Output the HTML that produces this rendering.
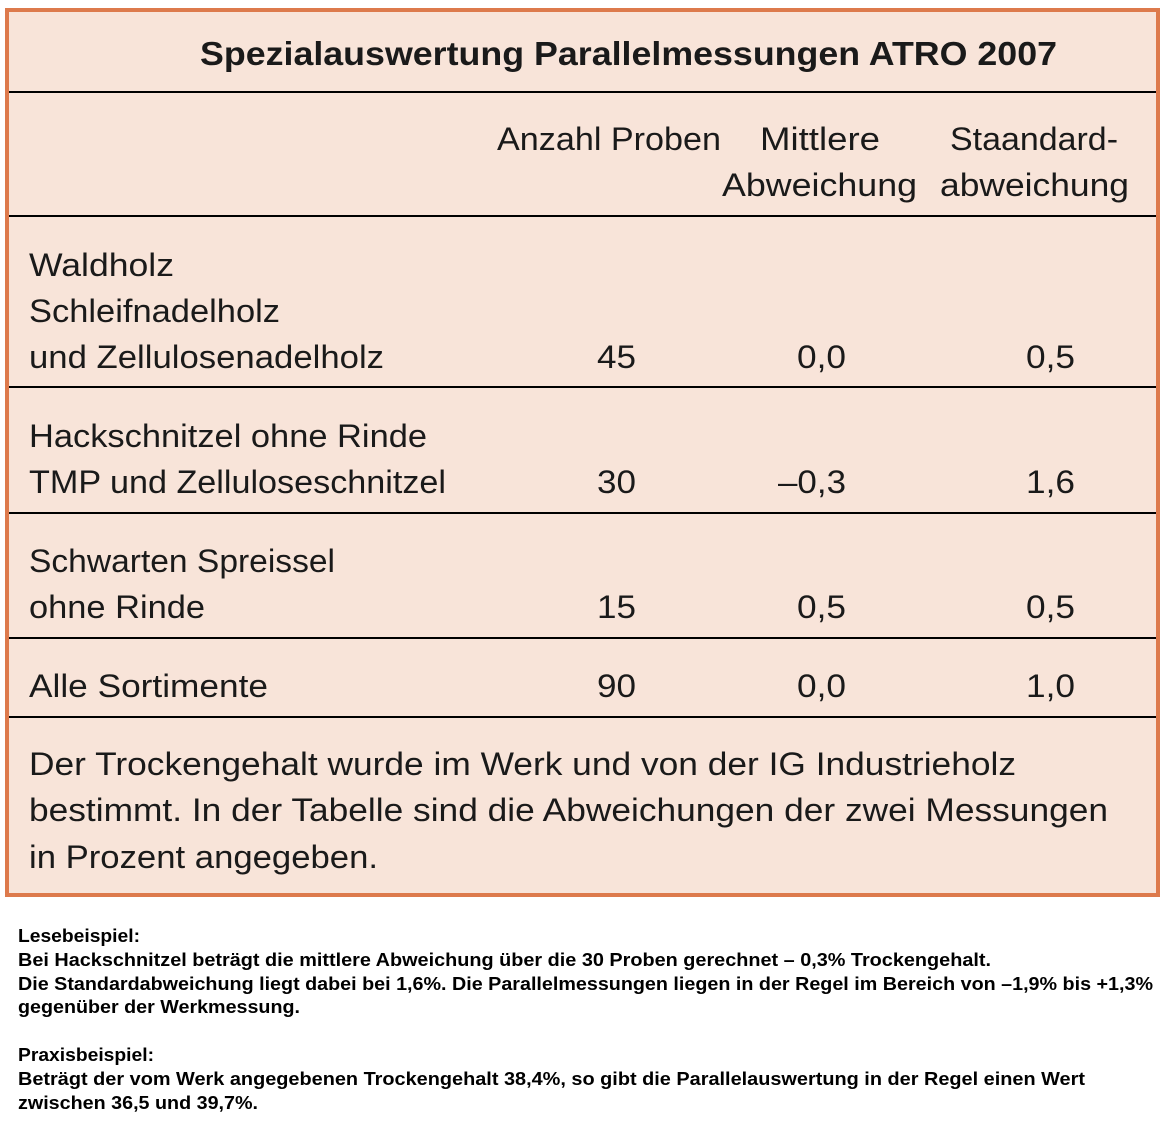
<!DOCTYPE html>
<html><head><meta charset="utf-8"><style>
html,body{margin:0;padding:0;background:#fff;}
svg{display:block}
.t{font-family:"Liberation Sans","DejaVu Sans",sans-serif;font-size:32px;fill:#1a1a1a}
.b{font-family:"Liberation Sans",Arial,sans-serif;font-size:18.5px;font-weight:bold;fill:#000}
</style></head><body>
<svg width="1164" height="1139" viewBox="0 0 1164 1139" xmlns="http://www.w3.org/2000/svg">
<rect x="7" y="10" width="1151" height="885" fill="#f8e4d9" stroke="#dd7a4c" stroke-width="4"/>
<g stroke="#000" stroke-width="2">
<line x1="9" y1="92" x2="1156" y2="92"/>
<line x1="9" y1="216" x2="1156" y2="216"/>
<line x1="9" y1="387" x2="1156" y2="387"/>
<line x1="9" y1="513" x2="1156" y2="513"/>
<line x1="9" y1="638" x2="1156" y2="638"/>
<line x1="9" y1="717" x2="1156" y2="717"/>
</g>
<text x="200" y="65" class="t" style="font-weight:bold;font-size:33px" textLength="857" lengthAdjust="spacingAndGlyphs">Spezialauswertung Parallelmessungen ATRO 2007</text>
<text x="497" y="150" class="t" textLength="224" lengthAdjust="spacingAndGlyphs">Anzahl Proben</text>
<text x="760" y="150" class="t" textLength="120" lengthAdjust="spacingAndGlyphs">Mittlere</text>
<text x="722" y="196" class="t" textLength="195" lengthAdjust="spacingAndGlyphs">Abweichung</text>
<text x="950" y="150" class="t" textLength="168" lengthAdjust="spacingAndGlyphs">Staandard-</text>
<text x="940" y="196" class="t" textLength="189" lengthAdjust="spacingAndGlyphs">abweichung</text>

<g lengthAdjust="spacingAndGlyphs">
<text x="29" y="276" class="t" textLength="145" lengthAdjust="spacingAndGlyphs">Waldholz</text>
<text x="29" y="322" class="t" textLength="251" lengthAdjust="spacingAndGlyphs">Schleifnadelholz</text>
<text x="29" y="368" class="t" textLength="355" lengthAdjust="spacingAndGlyphs">und Zellulosenadelholz</text>
<text x="597" y="368" class="t" textLength="39" lengthAdjust="spacingAndGlyphs">45</text><text x="797" y="368" class="t" textLength="49" lengthAdjust="spacingAndGlyphs">0,0</text><text x="1026" y="368" class="t" textLength="49" lengthAdjust="spacingAndGlyphs">0,5</text>

<text x="29" y="447" class="t" textLength="398" lengthAdjust="spacingAndGlyphs">Hackschnitzel ohne Rinde</text>
<text x="29" y="493" class="t" textLength="417" lengthAdjust="spacingAndGlyphs">TMP und Zelluloseschnitzel</text>
<text x="597" y="493" class="t" textLength="39" lengthAdjust="spacingAndGlyphs">30</text><text x="778" y="493" class="t" textLength="68" lengthAdjust="spacingAndGlyphs">–0,3</text><text x="1026" y="493" class="t" textLength="49" lengthAdjust="spacingAndGlyphs">1,6</text>

<text x="29" y="572" class="t" textLength="306" lengthAdjust="spacingAndGlyphs">Schwarten Spreissel</text>
<text x="29" y="618" class="t" textLength="176" lengthAdjust="spacingAndGlyphs">ohne Rinde</text>
<text x="597" y="618" class="t" textLength="39" lengthAdjust="spacingAndGlyphs">15</text><text x="797" y="618" class="t" textLength="49" lengthAdjust="spacingAndGlyphs">0,5</text><text x="1026" y="618" class="t" textLength="49" lengthAdjust="spacingAndGlyphs">0,5</text>

<text x="29" y="697" class="t" textLength="239" lengthAdjust="spacingAndGlyphs">Alle Sortimente</text>
<text x="597" y="697" class="t" textLength="39" lengthAdjust="spacingAndGlyphs">90</text><text x="797" y="697" class="t" textLength="49" lengthAdjust="spacingAndGlyphs">0,0</text><text x="1026" y="697" class="t" textLength="49" lengthAdjust="spacingAndGlyphs">1,0</text>
</g>

<text x="29" y="775" class="t" textLength="987" lengthAdjust="spacingAndGlyphs">Der Trockengehalt wurde im Werk und von der IG Industrieholz</text>
<text x="29" y="821" class="t" textLength="1079" lengthAdjust="spacingAndGlyphs">bestimmt. In der Tabelle sind die Abweichungen der zwei Messungen</text>
<text x="29" y="868" class="t" textLength="349" lengthAdjust="spacingAndGlyphs">in Prozent angegeben.</text>

<text x="18" y="942" class="b" textLength="122" lengthAdjust="spacingAndGlyphs">Lesebeispiel:</text>
<text x="18" y="966" class="b" textLength="973" lengthAdjust="spacingAndGlyphs">Bei Hackschnitzel beträgt die mittlere Abweichung über die 30 Proben gerechnet – 0,3% Trockengehalt.</text>
<text x="18" y="990" class="b" textLength="1135" lengthAdjust="spacingAndGlyphs">Die Standardabweichung liegt dabei bei 1,6%. Die Parallelmessungen liegen in der Regel im Bereich von –1,9% bis +1,3%</text>
<text x="18" y="1013" class="b" textLength="282" lengthAdjust="spacingAndGlyphs">gegenüber der Werkmessung.</text>
<text x="18" y="1061" class="b" textLength="136" lengthAdjust="spacingAndGlyphs">Praxisbeispiel:</text>
<text x="18" y="1085" class="b" textLength="1067" lengthAdjust="spacingAndGlyphs">Beträgt der vom Werk angegebenen Trockengehalt 38,4%, so gibt die Parallelauswertung in der Regel einen Wert</text>
<text x="18" y="1109" class="b" textLength="240" lengthAdjust="spacingAndGlyphs">zwischen 36,5 und 39,7%.</text>
</svg>
</body></html>
